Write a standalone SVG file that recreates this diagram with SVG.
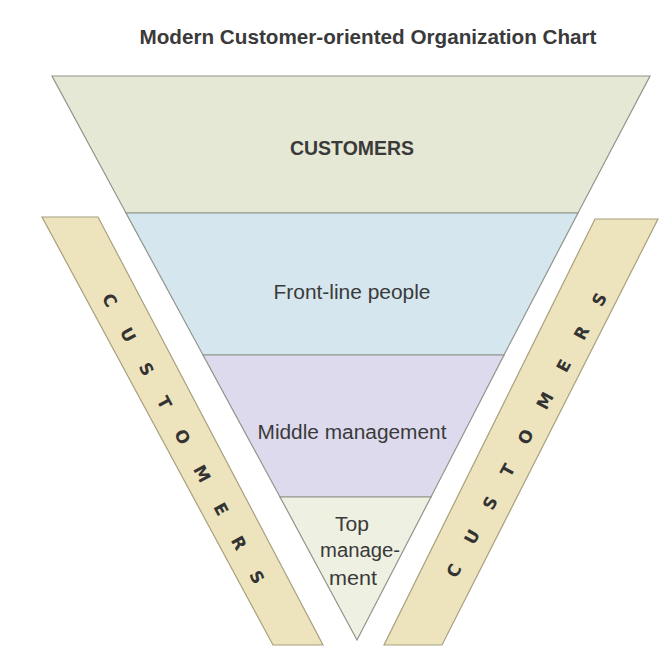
<svg xmlns="http://www.w3.org/2000/svg" width="664" height="653" viewBox="0 0 664 653">
<style>
.band{stroke:#8f958a;stroke-width:1.2}
.strip{fill:#ede3bd;stroke:#a8a07e;stroke-width:1.2}
.lbl{font-family:"Liberation Sans",Arial,sans-serif;fill:#3a3a3a;text-anchor:middle}
.b{font-weight:bold}
.sl{font-family:"DejaVu Sans",sans-serif;font-weight:bold;font-size:17px;fill:#333;text-anchor:middle}
</style>
<rect width="664" height="653" fill="#ffffff"/>
<text class="lbl b" x="368" y="44" font-size="21" textLength="457" lengthAdjust="spacingAndGlyphs">Modern Customer-oriented Organization Chart</text>
<g id="customers-band">
<polygon class="band" fill="#e5e8d4" points="52,76 650,76 578,213 126,213"/>
<text class="lbl b" x="352" y="155" font-size="21" textLength="124" lengthAdjust="spacingAndGlyphs">CUSTOMERS</text>
</g>
<g id="front-line">
<polygon class="band" fill="#d5e6ef" points="126,213 578,213 504,355 203,355"/>
<text class="lbl" x="352" y="299" font-size="20" textLength="157" lengthAdjust="spacingAndGlyphs">Front-line people</text>
</g>
<g id="middle-management">
<polygon class="band" fill="#dddaee" points="203,355 504,355 431,497 280,497"/>
<text class="lbl" x="352" y="439" font-size="20" textLength="189" lengthAdjust="spacingAndGlyphs">Middle management</text>
</g>
<g id="top-management">
<polygon class="band" fill="#eef0e2" points="280,497 431,497 357,640"/>
<text class="lbl" x="352" y="531" font-size="20" textLength="34" lengthAdjust="spacingAndGlyphs">Top</text>
<text class="lbl" x="360" y="557" font-size="20" textLength="80" lengthAdjust="spacingAndGlyphs">manage-</text>
<text class="lbl" x="353" y="585" font-size="20" textLength="48" lengthAdjust="spacingAndGlyphs">ment</text>
</g>
<g id="left-customers-strip">
<polygon class="strip" points="42,217 98,217 323,645 273,645"/>
<text class="sl" transform="translate(183.5,438.5) rotate(62)" dy="0.36em" textLength="326" lengthAdjust="spacing">CUSTOMERS</text>
</g>
<g id="right-customers-strip">
<polygon class="strip" points="595,219 658,219 442,645 384,645"/>
<text class="sl" transform="translate(526.5,435) rotate(-61.8)" dy="0.36em" textLength="320" lengthAdjust="spacing">CUSTOMERS</text>
</g>
<g id="connectors"></g>
</svg>
